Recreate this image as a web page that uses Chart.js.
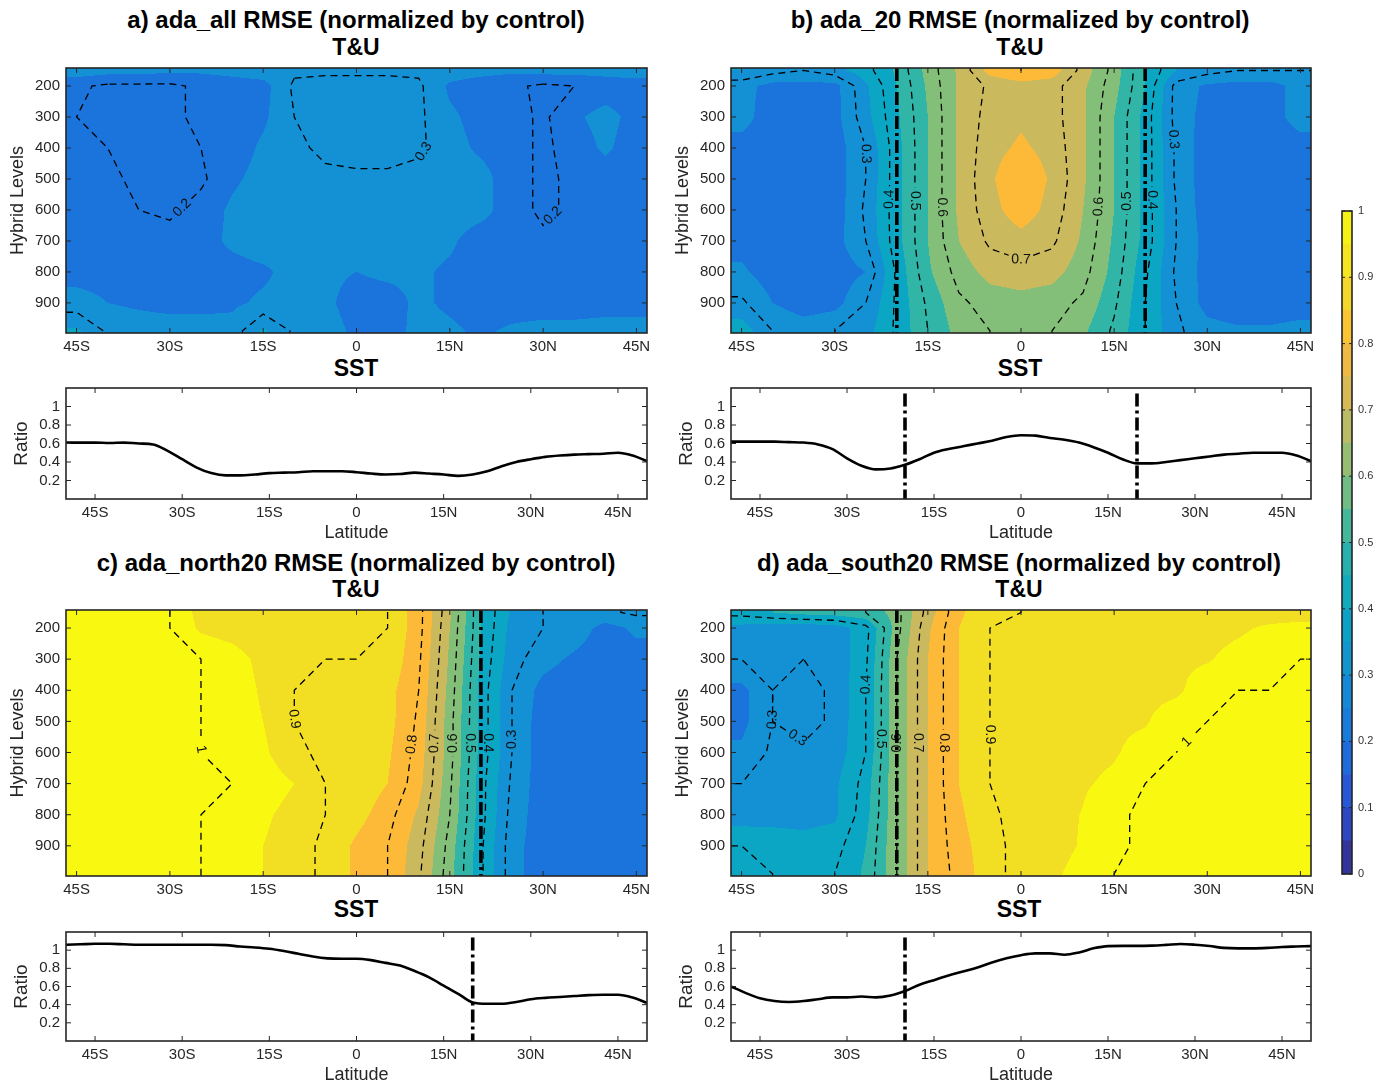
<!DOCTYPE html>
<html>
<head>
<meta charset="utf-8">
<title>RMSE normalized by control</title>
<script src="https://cdn.jsdelivr.net/npm/chart.js@4.4.1/dist/chart.umd.min.js"></script>
<style>
  html, body { margin: 0; padding: 0; background: #fff; }
  body { width: 1381px; height: 1082px; position: relative; overflow: hidden; font-family: "Liberation Sans", Arial, sans-serif; }
  canvas { position: absolute; }
  .title { position: absolute; transform: translateX(-50%); font-weight: bold; font-size: 24px; line-height: 26px; color: #000; white-space: nowrap; }
  .sub { font-size: 23px; }
</style>
</head>
<body>
<div class="title" style="left:356px;top:7px">a) ada_all RMSE (normalized by control)</div>
<div class="title sub" style="left:356px;top:34px">T&amp;U</div>
<div class="title sub" style="left:356px;top:355px">SST</div>
<div class="title" style="left:1020px;top:7px">b) ada_20 RMSE (normalized by control)</div>
<div class="title sub" style="left:1020px;top:34px">T&amp;U</div>
<div class="title sub" style="left:1020px;top:355px">SST</div>
<div class="title" style="left:356px;top:550px">c) ada_north20 RMSE (normalized by control)</div>
<div class="title sub" style="left:356px;top:576px">T&amp;U</div>
<div class="title sub" style="left:356px;top:896px">SST</div>
<div class="title" style="left:1019px;top:550px">d) ada_south20 RMSE (normalized by control)</div>
<div class="title sub" style="left:1019px;top:576px">T&amp;U</div>
<div class="title sub" style="left:1019px;top:896px">SST</div>
<script>
// grid of the T&U fields: columns = lats, rows = levels (top to bottom)
const lats = [-45, -40, -35, -30, -25, -20, -15, -10, -5, 0, 5, 10, 15, 20, 25, 30, 35, 40, 45];
const levels = [150, 200, 300, 400, 500, 600, 700, 800, 900, 990];

const adaAll = [
  [0.28, 0.27, 0.27, 0.26, 0.26, 0.27, 0.28, 0.29, 0.29, 0.29, 0.29, 0.29, 0.28, 0.27, 0.26, 0.27, 0.27, 0.27, 0.28],
  [0.21, 0.19, 0.19, 0.19, 0.21, 0.22, 0.23, 0.31, 0.32, 0.32, 0.32, 0.31, 0.24, 0.22, 0.21, 0.19, 0.20, 0.22, 0.22],
  [0.20, 0.19, 0.18, 0.19, 0.21, 0.22, 0.24, 0.30, 0.32, 0.33, 0.32, 0.31, 0.26, 0.23, 0.22, 0.19, 0.24, 0.27, 0.23],
  [0.21, 0.20, 0.19, 0.19, 0.20, 0.22, 0.26, 0.29, 0.31, 0.32, 0.32, 0.31, 0.27, 0.24, 0.22, 0.19, 0.22, 0.26, 0.22],
  [0.22, 0.21, 0.19, 0.18, 0.19, 0.24, 0.27, 0.28, 0.29, 0.29, 0.29, 0.28, 0.28, 0.27, 0.22, 0.19, 0.21, 0.22, 0.22],
  [0.22, 0.21, 0.20, 0.19, 0.22, 0.26, 0.28, 0.28, 0.28, 0.28, 0.28, 0.28, 0.28, 0.27, 0.22, 0.19, 0.21, 0.22, 0.22],
  [0.22, 0.22, 0.22, 0.22, 0.23, 0.26, 0.28, 0.27, 0.27, 0.27, 0.27, 0.27, 0.26, 0.22, 0.22, 0.21, 0.22, 0.22, 0.22],
  [0.23, 0.23, 0.23, 0.23, 0.23, 0.23, 0.24, 0.27, 0.26, 0.25, 0.26, 0.26, 0.24, 0.22, 0.22, 0.22, 0.22, 0.23, 0.23],
  [0.27, 0.25, 0.24, 0.23, 0.23, 0.24, 0.26, 0.27, 0.26, 0.23, 0.23, 0.26, 0.24, 0.22, 0.22, 0.22, 0.22, 0.23, 0.23],
  [0.36, 0.29, 0.28, 0.28, 0.28, 0.27, 0.36, 0.29, 0.27, 0.24, 0.22, 0.27, 0.26, 0.24, 0.26, 0.27, 0.27, 0.27, 0.27]
];

const ada20 = [
  [0.35, 0.32, 0.30, 0.33, 0.38, 0.46, 0.57, 0.66, 0.77, 0.80, 0.78, 0.68, 0.58, 0.45, 0.35, 0.32, 0.30, 0.30, 0.30],
  [0.27, 0.23, 0.23, 0.23, 0.34, 0.45, 0.56, 0.66, 0.71, 0.73, 0.72, 0.66, 0.57, 0.45, 0.28, 0.24, 0.23, 0.23, 0.27],
  [0.27, 0.22, 0.22, 0.23, 0.33, 0.44, 0.55, 0.66, 0.72, 0.74, 0.72, 0.66, 0.55, 0.43, 0.28, 0.23, 0.22, 0.23, 0.27],
  [0.23, 0.22, 0.22, 0.22, 0.30, 0.43, 0.55, 0.66, 0.73, 0.76, 0.73, 0.66, 0.55, 0.43, 0.29, 0.22, 0.22, 0.22, 0.23],
  [0.22, 0.21, 0.21, 0.22, 0.30, 0.43, 0.55, 0.66, 0.74, 0.80, 0.74, 0.66, 0.55, 0.43, 0.29, 0.22, 0.21, 0.21, 0.22],
  [0.22, 0.21, 0.21, 0.22, 0.31, 0.43, 0.55, 0.66, 0.73, 0.78, 0.73, 0.65, 0.55, 0.43, 0.30, 0.22, 0.21, 0.21, 0.22],
  [0.23, 0.21, 0.22, 0.23, 0.30, 0.43, 0.55, 0.65, 0.71, 0.73, 0.71, 0.64, 0.54, 0.43, 0.30, 0.23, 0.21, 0.21, 0.22],
  [0.26, 0.22, 0.22, 0.22, 0.25, 0.41, 0.54, 0.62, 0.67, 0.68, 0.67, 0.62, 0.53, 0.41, 0.29, 0.23, 0.21, 0.21, 0.22],
  [0.31, 0.25, 0.22, 0.23, 0.30, 0.41, 0.51, 0.59, 0.62, 0.63, 0.62, 0.59, 0.51, 0.40, 0.30, 0.23, 0.21, 0.21, 0.22],
  [0.38, 0.30, 0.28, 0.30, 0.33, 0.41, 0.50, 0.57, 0.60, 0.60, 0.60, 0.56, 0.49, 0.40, 0.31, 0.27, 0.26, 0.26, 0.27]
];

const adaNorth20 = [
  [1.03, 1.03, 1.02, 1.00, 0.93, 0.92, 0.91, 0.91, 0.91, 0.92, 0.90, 0.82, 0.66, 0.45, 0.34, 0.30, 0.29, 0.29, 0.31],
  [1.03, 1.03, 1.02, 1.00, 0.94, 0.92, 0.90, 0.90, 0.90, 0.91, 0.90, 0.82, 0.65, 0.45, 0.33, 0.30, 0.28, 0.23, 0.26],
  [1.03, 1.03, 1.02, 1.01, 1.00, 0.98, 0.93, 0.90, 0.90, 0.90, 0.89, 0.81, 0.64, 0.44, 0.32, 0.27, 0.24, 0.22, 0.23],
  [1.03, 1.03, 1.02, 1.01, 1.00, 0.99, 0.94, 0.90, 0.89, 0.88, 0.87, 0.80, 0.63, 0.43, 0.30, 0.23, 0.21, 0.21, 0.21],
  [1.03, 1.03, 1.02, 1.01, 1.00, 0.99, 0.95, 0.90, 0.88, 0.87, 0.87, 0.79, 0.62, 0.43, 0.30, 0.22, 0.21, 0.21, 0.21],
  [1.03, 1.03, 1.02, 1.01, 1.00, 0.99, 0.96, 0.91, 0.89, 0.88, 0.86, 0.78, 0.62, 0.43, 0.30, 0.22, 0.21, 0.21, 0.21],
  [1.03, 1.03, 1.02, 1.01, 1.00, 1.00, 0.98, 0.95, 0.90, 0.89, 0.85, 0.77, 0.61, 0.42, 0.29, 0.22, 0.21, 0.21, 0.21],
  [1.03, 1.03, 1.02, 1.01, 1.00, 0.99, 0.96, 0.93, 0.90, 0.87, 0.82, 0.74, 0.60, 0.42, 0.28, 0.22, 0.21, 0.21, 0.22],
  [1.03, 1.03, 1.02, 1.01, 1.00, 0.99, 0.95, 0.92, 0.89, 0.84, 0.80, 0.72, 0.58, 0.41, 0.27, 0.22, 0.21, 0.22, 0.24],
  [1.03, 1.03, 1.02, 1.01, 1.00, 0.99, 0.95, 0.92, 0.89, 0.84, 0.80, 0.71, 0.57, 0.41, 0.27, 0.22, 0.21, 0.22, 0.24]
];

const adaSouth20 = [
  [0.42, 0.45, 0.47, 0.48, 0.50, 0.58, 0.72, 0.84, 0.89, 0.90, 0.92, 0.92, 0.92, 0.92, 0.92, 0.92, 0.92, 0.92, 0.92],
  [0.33, 0.31, 0.31, 0.32, 0.38, 0.58, 0.74, 0.85, 0.90, 0.92, 0.93, 0.93, 0.92, 0.92, 0.92, 0.93, 0.94, 0.96, 0.97],
  [0.30, 0.31, 0.30, 0.31, 0.39, 0.60, 0.75, 0.85, 0.90, 0.92, 0.93, 0.93, 0.93, 0.93, 0.94, 0.945, 0.97, 0.99, 1.00],
  [0.235, 0.30, 0.28, 0.31, 0.40, 0.60, 0.75, 0.85, 0.90, 0.92, 0.93, 0.93, 0.93, 0.935, 0.94, 0.98, 1.00, 1.00, 1.01],
  [0.235, 0.30, 0.28, 0.31, 0.40, 0.60, 0.75, 0.85, 0.90, 0.92, 0.93, 0.93, 0.94, 0.945, 0.98, 1.00, 1.01, 1.01, 1.01],
  [0.26, 0.31, 0.31, 0.32, 0.40, 0.60, 0.75, 0.85, 0.90, 0.92, 0.93, 0.935, 0.945, 0.97, 1.00, 1.01, 1.01, 1.01, 1.01],
  [0.30, 0.31, 0.31, 0.34, 0.42, 0.60, 0.75, 0.85, 0.90, 0.92, 0.935, 0.945, 0.96, 1.00, 1.01, 1.01, 1.01, 1.01, 1.01],
  [0.32, 0.33, 0.33, 0.34, 0.43, 0.60, 0.75, 0.84, 0.89, 0.92, 0.935, 0.952, 0.99, 1.01, 1.01, 1.01, 1.01, 1.01, 1.01],
  [0.40, 0.38, 0.37, 0.38, 0.45, 0.60, 0.75, 0.83, 0.88, 0.92, 0.93, 0.955, 0.99, 1.01, 1.01, 1.01, 1.01, 1.01, 1.01],
  [0.42, 0.40, 0.39, 0.40, 0.46, 0.60, 0.75, 0.82, 0.88, 0.92, 0.94, 0.97, 1.00, 1.01, 1.01, 1.01, 1.01, 1.01, 1.01]
];

// SST ratio curves
const sstLat = [-50, -47.5, -45, -42.5, -40, -37.5, -35, -32.5, -30, -27.5, -25, -22.5, -20, -17.5, -15, -12.5, -10, -7.5, -5, -2.5,
  0, 2.5, 5, 7.5, 10, 12.5, 15, 17.5, 20, 22.5, 25, 27.5, 30, 32.5, 35, 37.5, 40, 42.5, 45, 47.5, 50];
const sstAll = [0.61, 0.61, 0.61, 0.605, 0.61, 0.60, 0.59, 0.52, 0.43, 0.34, 0.28, 0.255, 0.255, 0.265, 0.28, 0.285, 0.29, 0.30, 0.30, 0.30,
  0.29, 0.275, 0.265, 0.27, 0.285, 0.275, 0.265, 0.25, 0.265, 0.30, 0.355, 0.40, 0.43, 0.455, 0.47, 0.48, 0.485, 0.49, 0.50, 0.47, 0.41];
const sst20 = [0.62, 0.62, 0.62, 0.62, 0.615, 0.61, 0.59, 0.54, 0.44, 0.36, 0.32, 0.33, 0.37, 0.43, 0.50, 0.54, 0.57, 0.60, 0.63, 0.67,
  0.69, 0.685, 0.66, 0.64, 0.61, 0.56, 0.50, 0.43, 0.385, 0.385, 0.40, 0.42, 0.44, 0.46, 0.48, 0.49, 0.50, 0.50, 0.50, 0.47, 0.41];
const sstNorth20 = [1.06, 1.065, 1.07, 1.07, 1.065, 1.06, 1.06, 1.06, 1.06, 1.06, 1.06, 1.055, 1.04, 1.03, 1.015, 0.99, 0.96, 0.93, 0.91, 0.905,
  0.905, 0.89, 0.86, 0.83, 0.77, 0.70, 0.61, 0.52, 0.425, 0.41, 0.41, 0.43, 0.46, 0.475, 0.485, 0.495, 0.505, 0.51, 0.51, 0.48, 0.42];
const sstSouth20 = [0.60, 0.53, 0.47, 0.44, 0.43, 0.44, 0.46, 0.48, 0.48, 0.49, 0.48, 0.50, 0.55, 0.62, 0.67, 0.72, 0.765, 0.81, 0.865, 0.91,
  0.945, 0.965, 0.965, 0.95, 0.975, 1.02, 1.045, 1.047, 1.047, 1.05, 1.058, 1.068, 1.06, 1.045, 1.025, 1.02, 1.02, 1.025, 1.035, 1.04, 1.045];

// ticks and levels
const latTicks = [-45, -30, -15, 0, 15, 30, 45];
const levelTicks = [200, 300, 400, 500, 600, 700, 800, 900];
const ratioTicks = [0.2, 0.4, 0.6, 0.8, 1];
const contourLevels = [0.2, 0.3, 0.4, 0.5, 0.6, 0.7, 0.8, 0.9, 1.0];
const cbarTicks = [0, 0.1, 0.2, 0.3, 0.4, 0.5, 0.6, 0.7, 0.8, 0.9, 1];
const cbarLevels = [0, 0.05, 0.1, 0.15, 0.2, 0.25, 0.3, 0.35, 0.4, 0.45, 0.5, 0.55, 0.6, 0.65, 0.7, 0.75, 0.8, 0.85, 0.9, 0.95, 1];

// parula-like fill colours, one per 0.1 band
const bandColors = ['#352a87', '#2a4fd6', '#1a74dc', '#1490d4', '#0aa6c4', '#30b5a6', '#84bf79', '#cbb95e', '#fcba38', '#f2df24', '#f8f810'];

Chart.defaults.font.family = '"Liberation Sans", Arial, sans-serif';
Chart.defaults.color = '#262626';

const rgb = bandColors.map(h => [parseInt(h.slice(1, 3), 16), parseInt(h.slice(3, 5), 16), parseInt(h.slice(5, 7), 16)]);

function latLabel(v) {
    return v < 0 ? (-v) + 'S' : v > 0 ? v + 'N' : '0';
}

function addCanvas(left, top, w, h) {
    const cv = document.createElement('canvas');
    cv.width = w;
    cv.height = h;
    cv.style.left = left + 'px';
    cv.style.top = top + 'px';
    cv.style.width = w + 'px';
    cv.style.height = h + 'px';
    document.body.appendChild(cv);
    return cv;
}

// keep the plot box exactly where the layout padding puts it
function fixWidth(w) {
    return s => { s.width = w; s.paddingTop = 0; s.paddingBottom = 0; };
}
function fixHeight(h) {
    return s => { s.height = h; s.paddingLeft = 0; s.paddingRight = 0; };
}

function locate(arr, v) {
    const n = arr.length;
    if (v <= arr[0]) return [0, 0];
    if (v >= arr[n - 1]) return [n - 2, 1];
    let i = 0;
    while (arr[i + 1] < v) i++;
    return [i, (v - arr[i]) / (arr[i + 1] - arr[i])];
}

// marching squares on the grid, chained into polylines (pixel coords)
function contourLines(chart, grid, L) {
    const { x, y } = chart.scales;
    const xs = [x.min, ...lats, x.max];
    const ys = [y.min, ...levels, y.max];
    const val = (i, j) => grid[Math.min(Math.max(j - 1, 0), levels.length - 1)][Math.min(Math.max(i - 1, 0), lats.length - 1)];
    const pts = {};
    const segs = [];
    const edge = (key, i0, j0, i1, j1) => {
        if (!pts[key]) {
            const v0 = val(i0, j0), v1 = val(i1, j1);
            const t = (L - v0) / (v1 - v0);
            pts[key] = [x.getPixelForValue(xs[i0] + t * (xs[i1] - xs[i0])), y.getPixelForValue(ys[j0] + t * (ys[j1] - ys[j0]))];
        }
        return key;
    };
    for (let i = 0; i < xs.length - 1; i++) {
        for (let j = 0; j < ys.length - 1; j++) {
            const va = val(i, j), vb = val(i + 1, j), vc = val(i + 1, j + 1), vd = val(i, j + 1);
            const sa = va >= L, sb = vb >= L, sc = vc >= L, sd = vd >= L;
            const e0 = sa !== sb ? edge('h' + i + ',' + j, i, j, i + 1, j) : null;
            const e1 = sb !== sc ? edge('v' + (i + 1) + ',' + j, i + 1, j, i + 1, j + 1) : null;
            const e2 = sc !== sd ? edge('h' + i + ',' + (j + 1), i, j + 1, i + 1, j + 1) : null;
            const e3 = sd !== sa ? edge('v' + i + ',' + j, i, j, i, j + 1) : null;
            const es = [e0, e1, e2, e3].filter(e => e);
            if (es.length === 2) {
                segs.push(es);
            } else if (es.length === 4) {
                const centre = (va + vb + vc + vd) / 4 >= L;
                if (centre === sa) { segs.push([e0, e1]); segs.push([e2, e3]); }
                else { segs.push([e3, e0]); segs.push([e1, e2]); }
            }
        }
    }
    const adj = {};
    segs.forEach((s, k) => s.forEach(e => (adj[e] = adj[e] || []).push(k)));
    const used = new Array(segs.length).fill(false);
    const walk = start => {
        const path = [start];
        let cur = start;
        for (;;) {
            const k = adj[cur].find(q => !used[q]);
            if (k === undefined) break;
            used[k] = true;
            cur = segs[k][0] === cur ? segs[k][1] : segs[k][0];
            path.push(cur);
        }
        return path.map(key => pts[key]);
    };
    const lines = [];
    for (const key in adj) {
        if (adj[key].length === 1) {
            const p = walk(key);
            if (p.length > 1) lines.push(p);
        }
    }
    segs.forEach((s, k) => { if (!used[k]) lines.push(walk(s[0])); });
    return lines;
}

function drawLabelledLine(ctx, p, text) {
    const cum = [0];
    for (let k = 1; k < p.length; k++) cum.push(cum[k - 1] + Math.hypot(p[k][0] - p[k - 1][0], p[k][1] - p[k - 1][1]));
    const total = cum[cum.length - 1];
    const at = d => {
        let k = 1;
        while (k < p.length - 1 && cum[k] < d) k++;
        const t = (d - cum[k - 1]) / ((cum[k] - cum[k - 1]) || 1);
        return [p[k - 1][0] + t * (p[k][0] - p[k - 1][0]), p[k - 1][1] + t * (p[k][1] - p[k - 1][1]), k];
    };
    const stroke = (d0, d1) => {
        if (d1 - d0 < 1) return;
        const s = at(d0), e = at(d1);
        ctx.beginPath();
        ctx.moveTo(s[0], s[1]);
        for (let k = s[2]; k < e[2]; k++) ctx.lineTo(p[k][0], p[k][1]);
        ctx.lineTo(e[0], e[1]);
        ctx.stroke();
    };
    if (total < 70) { stroke(0, total); return; }
    const mid = total / 2;
    stroke(0, mid - 13);
    stroke(mid + 13, total);
    const c = at(mid), a = at(mid - 6), b = at(mid + 6);
    let ang = Math.atan2(b[1] - a[1], b[0] - a[0]);
    if (ang > Math.PI / 2) ang -= Math.PI;
    if (ang < -Math.PI / 2) ang += Math.PI;
    ctx.save();
    ctx.translate(c[0], c[1]);
    ctx.rotate(ang);
    ctx.setLineDash([]);
    ctx.fillText(text, 0, 0);
    ctx.restore();
}

function fieldPlugin(grid) {
    return {
        id: 'field',
        beforeDatasetsDraw(chart) {
            const { ctx, chartArea: a, scales: { x, y } } = chart;
            const x0 = Math.round(a.left), y0 = Math.round(a.top);
            const w = Math.round(a.right) - x0, h = Math.round(a.bottom) - y0;
            const img = ctx.createImageData(w, h);
            const cols = [], rows = [];
            for (let i = 0; i < w; i++) cols.push(locate(lats, x.getValueForPixel(x0 + i + 0.5)));
            for (let j = 0; j < h; j++) rows.push(locate(levels, y.getValueForPixel(y0 + j + 0.5)));
            for (let j = 0; j < h; j++) {
                const [r, tr] = rows[j];
                const g0 = grid[r], g1 = grid[r + 1];
                for (let i = 0; i < w; i++) {
                    const [c, tc] = cols[i];
                    const top = g0[c] + tc * (g0[c + 1] - g0[c]);
                    const bot = g1[c] + tc * (g1[c + 1] - g1[c]);
                    const v = top + tr * (bot - top);
                    const col = rgb[Math.max(0, Math.min(10, Math.round(v * 10)))];
                    const o = (j * w + i) * 4;
                    img.data[o] = col[0];
                    img.data[o + 1] = col[1];
                    img.data[o + 2] = col[2];
                    img.data[o + 3] = 255;
                }
            }
            ctx.putImageData(img, x0, y0);
        },
        afterDatasetsDraw(chart) {
            const { ctx, chartArea: a } = chart;
            ctx.save();
            ctx.beginPath();
            ctx.rect(a.left, a.top, a.right - a.left, a.bottom - a.top);
            ctx.clip();
            ctx.strokeStyle = '#000';
            ctx.fillStyle = '#111';
            ctx.lineWidth = 1.3;
            ctx.font = '14px "Liberation Sans", Arial, sans-serif';
            ctx.textAlign = 'center';
            ctx.textBaseline = 'middle';
            for (const L of contourLevels) {
                const text = L === 1 ? '1' : L.toFixed(1);
                for (const line of contourLines(chart, grid, L)) {
                    ctx.setLineDash([7, 5]);
                    drawLabelledLine(ctx, line, text);
                }
            }
            ctx.restore();
        }
    };
}

function marksPlugin(marks, from, to) {
    return {
        id: 'marks',
        afterDatasetsDraw(chart) {
            const { ctx, chartArea: a, scales: { x, y } } = chart;
            ctx.save();
            ctx.strokeStyle = '#000';
            ctx.lineWidth = 3.6;
            ctx.setLineDash([13, 4, 3, 4]);
            for (const m of marks) {
                const px = x.getPixelForValue(m);
                ctx.beginPath();
                ctx.moveTo(px, from === null ? a.top : y.getPixelForValue(from));
                ctx.lineTo(px, to === null ? a.bottom : y.getPixelForValue(to));
                ctx.stroke();
            }
            ctx.restore();
        }
    };
}

const framePlugin = {
    id: 'frame',
    afterDraw(chart) {
        const { ctx, chartArea: a, scales: { x, y } } = chart;
        const len = chart.config.type === 'bar' ? 3 : 5;
        ctx.save();
        ctx.strokeStyle = '#262626';
        ctx.lineWidth = 1;
        ctx.beginPath();
        if (x.options.display !== false) {
            for (const t of x.ticks) {
                const px = x.getPixelForValue(t.value);
                ctx.moveTo(px, a.bottom); ctx.lineTo(px, a.bottom - len);
                ctx.moveTo(px, a.top); ctx.lineTo(px, a.top + len);
            }
        }
        for (const t of y.ticks) {
            const py = y.getPixelForValue(t.value);
            ctx.moveTo(a.left, py); ctx.lineTo(a.left + len, py);
            ctx.moveTo(a.right, py); ctx.lineTo(a.right - len, py);
        }
        ctx.stroke();
        ctx.lineWidth = 1.6;
        ctx.strokeRect(a.left, a.top, a.right - a.left, a.bottom - a.top);
        ctx.restore();
    }
};

function latAxis(min, max, withTitle) {
    return {
        type: 'linear', min: min, max: max,
        afterBuildTicks: s => { s.ticks = latTicks.map(v => ({ value: v })); },
        ticks: { callback: latLabel, font: { size: 15 }, color: '#262626', padding: 5, maxRotation: 0, autoSkip: false },
        grid: { display: false, drawTicks: false },
        border: { display: false },
        title: withTitle
            ? { display: true, text: 'Latitude', font: { size: 18 }, color: '#262626', padding: { top: 0, bottom: 3 } }
            : { display: false },
        afterFit: fixHeight(withTitle ? 48 : 27)
    };
}

const baseOptions = {
    responsive: false,
    animation: false,
    devicePixelRatio: 1,
    events: []
};

function makeField(p) {
    const h = p.fieldH;
    const cv = addCanvas(p.x - 66, p.top - 8, 66 + p.w + 14, 8 + h + 27);
    new Chart(cv, {
        type: 'scatter',
        data: { datasets: [] },
        options: {
            ...baseOptions,
            layout: { padding: { top: 8, right: 14, left: 0, bottom: 0 } },
            plugins: { legend: { display: false }, tooltip: { enabled: false } },
            scales: {
                x: latAxis(-46.7, 46.7, false),
                y: {
                    type: 'linear', reverse: true, min: 142, max: 997,
                    afterBuildTicks: s => { s.ticks = levelTicks.map(v => ({ value: v })); },
                    ticks: { font: { size: 15 }, color: '#262626', padding: 6 },
                    grid: { display: false, drawTicks: false },
                    border: { display: false },
                    title: { display: true, text: 'Hybrid Levels', font: { size: 18 }, color: '#262626', padding: { top: 7 } },
                    afterFit: fixWidth(66)
                }
            }
        },
        plugins: [fieldPlugin(p.field), marksPlugin(p.marks, null, null), framePlugin]
    });
}

function makeSst(p) {
    const h = p.sstH;
    const cv = addCanvas(p.x - 66, p.sstTop - 8, 66 + p.w + 14, 8 + h + 48);
    new Chart(cv, {
        type: 'line',
        data: {
            datasets: [{
                data: sstLat.map((lat, i) => ({ x: lat, y: p.sst[i] })),
                borderColor: '#000',
                borderWidth: 2.6,
                pointRadius: 0,
                cubicInterpolationMode: 'monotone',
                fill: false
            }]
        },
        options: {
            ...baseOptions,
            layout: { padding: { top: 8, right: 14, left: 0, bottom: 0 } },
            plugins: { legend: { display: false }, tooltip: { enabled: false } },
            scales: {
                x: latAxis(-50, 50, true),
                y: {
                    type: 'linear', min: 0, max: 1.2,
                    afterBuildTicks: s => { s.ticks = ratioTicks.map(v => ({ value: v })); },
                    ticks: { callback: v => (v === 1 ? '1' : v.toFixed(1)), font: { size: 15 }, color: '#262626', padding: 6 },
                    grid: { display: false, drawTicks: false },
                    border: { display: false },
                    title: { display: true, text: 'Ratio', font: { size: 19 }, color: '#262626', padding: { top: 10 } },
                    afterFit: fixWidth(66)
                }
            }
        },
        plugins: [marksPlugin(p.marks, 1.14, 0), framePlugin]
    });
}

function lerpColor(pos) {
    const k = Math.min(9, Math.floor(pos));
    const t = pos - k;
    const c = rgb[k].map((v, n) => Math.round(v + t * (rgb[k + 1][n] - v)));
    return 'rgb(' + c.join(',') + ')';
}

function makeColorbar() {
    const cv = addCanvas(1335, 200, 46, 690);
    new Chart(cv, {
        type: 'bar',
        data: {
            labels: ['cb'],
            datasets: cbarLevels.slice(0, -1).map((lo, j) => ({
                data: [[lo, cbarLevels[j + 1]]],
                backgroundColor: lerpColor((lo + cbarLevels[j + 1]) * 5),
                borderWidth: 0,
                barPercentage: 1,
                categoryPercentage: 1,
                grouped: false
            }))
        },
        options: {
            ...baseOptions,
            layout: { padding: { top: 11, right: 0, left: 7, bottom: 16 } },
            plugins: { legend: { display: false }, tooltip: { enabled: false } },
            scales: {
                x: { display: false },
                y: {
                    position: 'right', min: 0, max: 1,
                    afterBuildTicks: s => { s.ticks = cbarTicks.map(v => ({ value: v })); },
                    ticks: { callback: v => (v === 0 || v === 1 ? String(v) : v.toFixed(1)), font: { size: 11 }, color: '#333', padding: 6 },
                    grid: { display: false, drawTicks: false },
                    border: { display: false },
                    afterFit: fixWidth(29)
                }
            }
        },
        plugins: [framePlugin]
    });
}

const panels = [
    { field: adaAll, sst: sstAll, marks: [], x: 66, w: 581, top: 68, fieldH: 265, sstTop: 388, sstH: 111 },
    { field: ada20, sst: sst20, marks: [-20, 20], x: 731, w: 580, top: 68, fieldH: 265, sstTop: 388, sstH: 111 },
    { field: adaNorth20, sst: sstNorth20, marks: [20], x: 66, w: 581, top: 610, fieldH: 266, sstTop: 932, sstH: 109 },
    { field: adaSouth20, sst: sstSouth20, marks: [-20], x: 731, w: 580, top: 610, fieldH: 266, sstTop: 932, sstH: 109 }
];

panels.forEach(p => {
    makeField(p);
    makeSst(p);
});
makeColorbar();
</script>
</body>
</html>
